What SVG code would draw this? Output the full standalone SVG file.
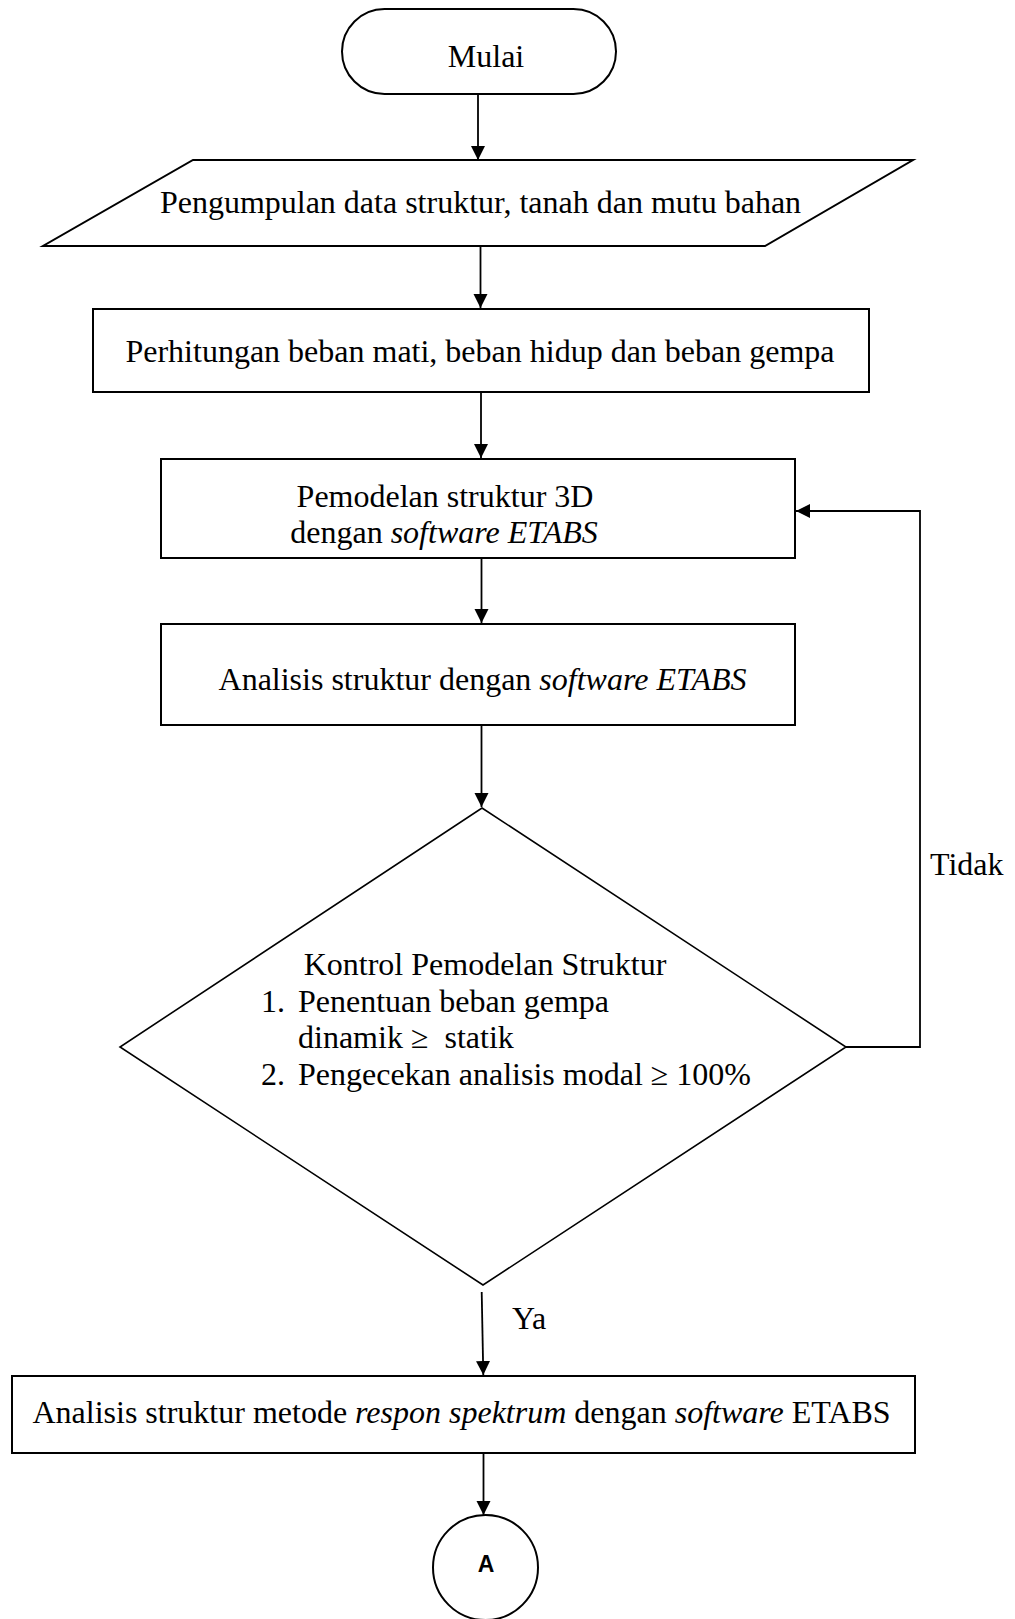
<svg xmlns="http://www.w3.org/2000/svg" width="1015" height="1619" viewBox="0 0 1015 1619">
<style>
.shape{fill:#fff;stroke:#000;stroke-width:2}
.dia{fill:#fff;stroke:#000;stroke-width:1.6}
.t{font-family:"Liberation Serif","Times New Roman",serif;font-size:32px;fill:#000;white-space:pre}
.m{text-anchor:middle}
.conn{fill:none;stroke:#000;stroke-width:1.8}
</style>
<defs>
<marker id="ah" markerUnits="userSpaceOnUse" markerWidth="15" markerHeight="15" refX="14" refY="7" orient="auto">
<path d="M0,0 L14,7 L0,14 z" fill="#000"/>
</marker>
</defs>
<rect width="1015" height="1619" fill="#fff"/>
<g id="connectors">
<line class="conn" x1="478" y1="94" x2="478" y2="160" marker-end="url(#ah)"/>
<line class="conn" x1="480.5" y1="246" x2="480.5" y2="308" marker-end="url(#ah)"/>
<line class="conn" x1="481" y1="392" x2="481" y2="458" marker-end="url(#ah)"/>
<line class="conn" x1="481.5" y1="558" x2="481.5" y2="623" marker-end="url(#ah)"/>
<line class="conn" x1="481.5" y1="725" x2="481.5" y2="807" marker-end="url(#ah)"/>
<polyline class="conn" points="846,1047 920,1047 920,511 796,511" marker-end="url(#ah)"/>
<line class="conn" x1="481.7" y1="1292" x2="483.3" y2="1375" marker-end="url(#ah)"/>
<line class="conn" x1="483.5" y1="1453" x2="483.5" y2="1515" marker-end="url(#ah)"/>
<text class="t" x="930" y="875">Tidak</text>
<text class="t" x="512" y="1329">Ya</text>
</g>
<g id="start">
<rect class="shape" x="342" y="9" width="274" height="85" rx="42.5" ry="42.5"/>
<text class="t m" x="486" y="67">Mulai</text>
</g>
<g id="input-data">
<polygon class="shape" points="193,160 913,160 765,246 43,246"/>
<text class="t m" x="480.5" y="213">Pengumpulan data struktur, tanah dan mutu bahan</text>
</g>
<g id="beban">
<rect class="shape" x="93" y="309" width="776" height="83"/>
<text class="t m" x="480" y="362">Perhitungan beban mati, beban hidup dan beban gempa</text>
</g>
<g id="pemodelan">
<rect class="shape" x="161" y="459" width="634" height="99"/>
<text class="t m" x="445" y="507">Pemodelan struktur 3D</text>
<text class="t m" x="444" y="543">dengan <tspan font-style="italic">software ETABS</tspan></text>
</g>
<g id="analisis">
<rect class="shape" x="161" y="624" width="634" height="101"/>
<text class="t m" x="482.5" y="690">Analisis struktur dengan <tspan font-style="italic">software ETABS</tspan></text>
</g>
<g id="kontrol">
<polygon class="dia" points="482,808 846,1047 483,1285 120,1047"/>
<text class="t m" x="485" y="975">Kontrol Pemodelan Struktur</text>
<text class="t" x="261" y="1012">1.</text>
<text class="t" x="298" y="1012">Penentuan beban gempa</text>
<text class="t" x="298" y="1048">dinamik ≥  statik</text>
<text class="t" x="261" y="1085">2.</text>
<text class="t" x="298" y="1085">Pengecekan analisis modal ≥ 100%</text>
</g>
<g id="respon">
<rect class="shape" x="12" y="1376" width="903" height="77"/>
<text class="t m" x="461.5" y="1423">Analisis struktur metode <tspan font-style="italic">respon spektrum</tspan> dengan <tspan font-style="italic">software</tspan> ETABS</text>
</g>
<g id="connector-A">
<circle class="shape" cx="485.5" cy="1567.5" r="52.5"/>
<text x="486" y="1572" text-anchor="middle" font-family="Liberation Sans, Arial, sans-serif" font-weight="bold" font-size="23">A</text>
</g>
</svg>
